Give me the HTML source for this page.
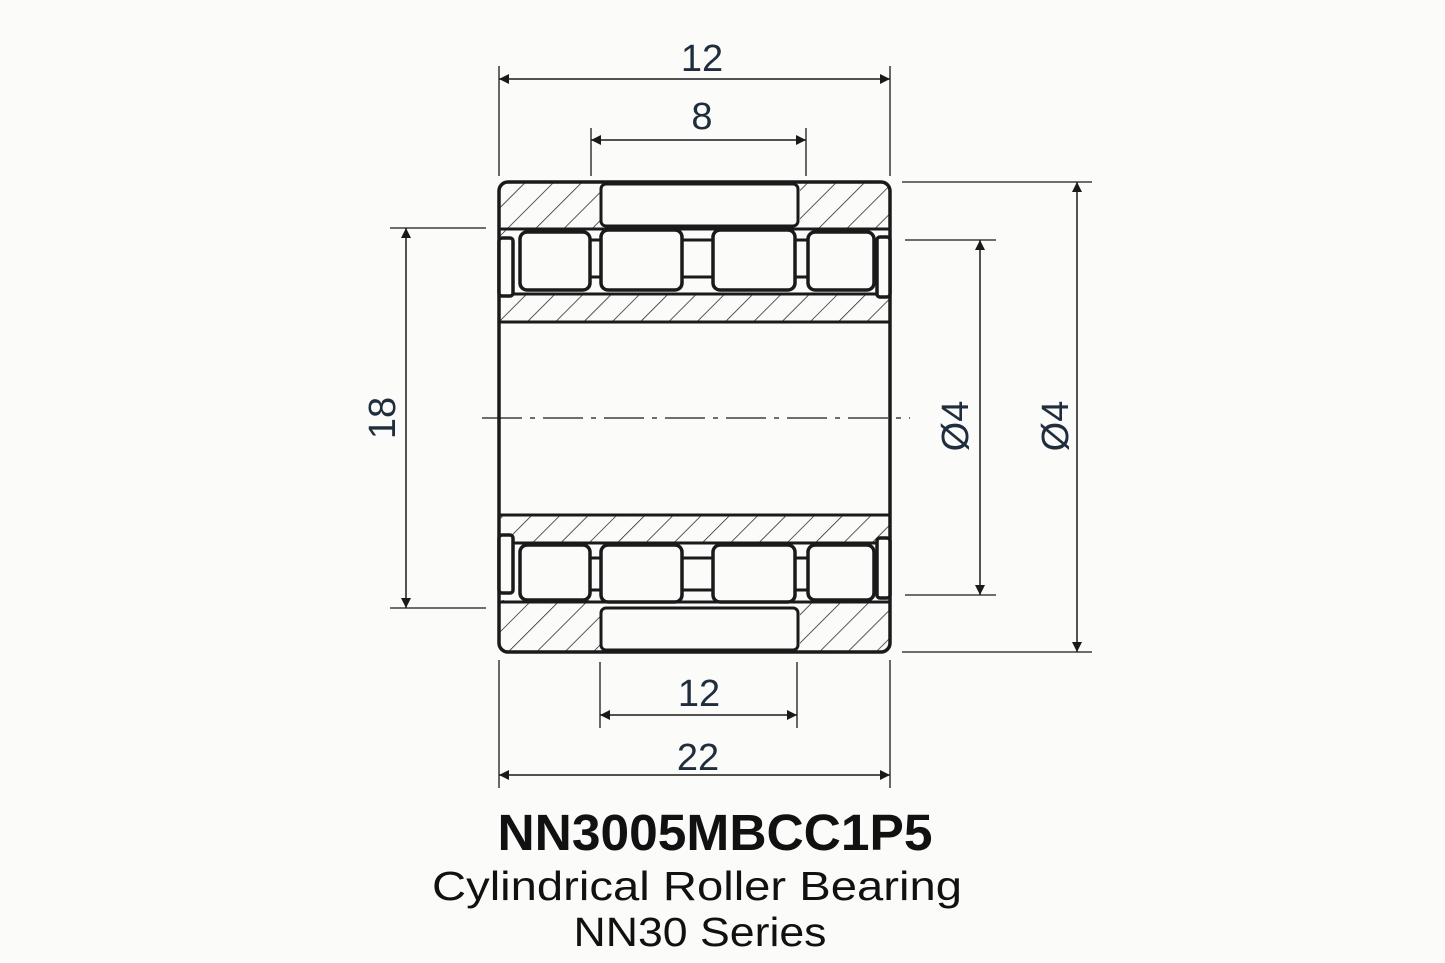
<!DOCTYPE html>
<html><head><meta charset="utf-8"><style>html,body{margin:0;padding:0;background:#fbfbf9}svg{display:block}</style></head>
<body>
<svg width="1445" height="963" viewBox="0 0 1445 963" xmlns="http://www.w3.org/2000/svg">
<defs>
<pattern id="h" patternUnits="userSpaceOnUse" width="20" height="20" patternTransform="rotate(45)">
<line x1="0" y1="0" x2="0" y2="20" stroke="#222" stroke-width="1.5"/>
</pattern>
<marker id="a" viewBox="0 0 10 10" refX="10" refY="5" markerWidth="16" markerHeight="10" markerUnits="userSpaceOnUse" orient="auto-start-reverse"><path d="M0,0 L10,5 L0,10 z" fill="#1a1a1a"/></marker>
</defs>
<rect width="1445" height="963" fill="#fbfbf9"/>
<g stroke="#1a1a1a" fill="none">
<!-- hatched areas -->
<path d="M508,183 H600 V228 H512 L499,240 V192 Q499,183 508,183 Z" fill="url(#h)" stroke="none"/>
<path d="M800,183 H882 Q890,183 890,192 V236 L878,228 H800 Z" fill="url(#h)" stroke="none"/>
<rect x="499" y="294" width="391" height="28" fill="url(#h)" stroke="none"/>
<rect x="499" y="515" width="391" height="28" fill="url(#h)" stroke="none"/>
<path d="M499,600 H600 V652 H508 Q499,652 499,643 Z" fill="url(#h)" stroke="none"/>
<path d="M800,600 H890 V643 Q890,652 882,652 H800 Z" fill="url(#h)" stroke="none"/>
<!-- outer outline -->
<rect x="499" y="182" width="391" height="470" rx="9" stroke-width="3.5"/>
<line x1="499" y1="322" x2="890" y2="322" stroke-width="3"/>
<line x1="499" y1="515" x2="890" y2="515" stroke-width="3"/>
<line x1="499" y1="294" x2="890" y2="294" stroke-width="3"/>
<line x1="499" y1="543" x2="890" y2="543" stroke-width="3"/>
<line x1="499" y1="229" x2="890" y2="229" stroke-width="3"/>
<line x1="499" y1="602" x2="890" y2="602" stroke-width="3"/>
<!-- top middle blocks -->
<rect x="601" y="184" width="197" height="42" rx="5" stroke-width="3" fill="#fbfbf9"/>
<rect x="601" y="608" width="197" height="42" rx="5" stroke-width="3" fill="#fbfbf9"/>
<!-- rollers top -->
<g stroke-width="3.5" fill="#fbfbf9">
<rect x="520" y="232" width="70" height="58" rx="7"/>
<rect x="601" y="230" width="81" height="60" rx="7"/>
<rect x="713" y="230" width="82" height="60" rx="7"/>
<rect x="808" y="232" width="66" height="58" rx="7"/>
<rect x="499" y="238" width="14" height="58" rx="3"/>
<rect x="877" y="237" width="13" height="60" rx="3"/>
<rect x="520" y="545" width="70" height="55" rx="7"/>
<rect x="601" y="545" width="81" height="57" rx="7"/>
<rect x="713" y="545" width="82" height="57" rx="7"/>
<rect x="808" y="545" width="66" height="55" rx="7"/>
<rect x="499" y="535" width="14" height="58" rx="3"/>
<rect x="877" y="538" width="13" height="60" rx="3"/>
</g>
<g stroke-width="3">
<line x1="682" y1="240" x2="713" y2="240"/><line x1="682" y1="277" x2="713" y2="277"/>
<line x1="682" y1="558" x2="713" y2="558"/><line x1="682" y1="590" x2="713" y2="590"/>
<line x1="590" y1="240" x2="601" y2="240"/><line x1="590" y1="277" x2="601" y2="277"/>
<line x1="795" y1="240" x2="808" y2="240"/><line x1="795" y1="277" x2="808" y2="277"/>
<line x1="590" y1="558" x2="601" y2="558"/><line x1="590" y1="590" x2="601" y2="590"/>
<line x1="795" y1="558" x2="808" y2="558"/><line x1="795" y1="590" x2="808" y2="590"/>
</g>
<!-- centerline -->
<line x1="482" y1="418" x2="910" y2="418" stroke-width="1.3" stroke-dasharray="40,8,5,8"/>
<!-- extension lines -->
<g stroke-width="1.3">
<line x1="499" y1="66" x2="499" y2="176"/><line x1="890" y1="66" x2="890" y2="176"/>
<line x1="591" y1="128" x2="591" y2="176"/><line x1="806" y1="128" x2="806" y2="176"/>
<line x1="499" y1="660" x2="499" y2="788"/><line x1="890" y1="660" x2="890" y2="788"/>
<line x1="600" y1="662" x2="600" y2="728"/><line x1="797" y1="662" x2="797" y2="728"/>
<line x1="390" y1="228" x2="486" y2="228"/><line x1="390" y1="608" x2="486" y2="608"/>
<line x1="905" y1="240" x2="996" y2="240"/><line x1="905" y1="595" x2="996" y2="595"/>
<line x1="902" y1="182" x2="1092" y2="182"/><line x1="902" y1="652" x2="1092" y2="652"/>
</g>
<!-- dimension lines -->
<g stroke-width="1.5" marker-start="url(#a)" marker-end="url(#a)">
<line x1="499" y1="79" x2="890" y2="79"/>
<line x1="591" y1="140" x2="806" y2="140"/>
<line x1="600" y1="715" x2="797" y2="715"/>
<line x1="499" y1="775" x2="890" y2="775"/>
<line x1="406" y1="228" x2="406" y2="608"/>
<line x1="980" y1="240" x2="980" y2="595"/>
<line x1="1077" y1="182" x2="1077" y2="652"/>
</g>
</g>
<g font-family="Liberation Sans, sans-serif" fill="#1f2d3d" font-size="38" text-anchor="middle">
<text x="702" y="71">12</text>
<text x="702" y="129">8</text>
<text x="699" y="706">12</text>
<text x="698" y="770">22</text>
<text transform="translate(395,418) rotate(-90)">18</text>
<text transform="translate(968,426) rotate(-90)">Ø4</text>
<text transform="translate(1068,426) rotate(-90)">Ø4</text>
</g>
<g font-family="Liberation Sans, sans-serif" fill="#111" text-anchor="middle">
<text x="715" y="850" font-size="51" font-weight="bold" textLength="435" lengthAdjust="spacingAndGlyphs">NN3005MBCC1P5</text>
<text x="697" y="900" font-size="41" textLength="530" lengthAdjust="spacingAndGlyphs">Cylindrical Roller Bearing</text>
<text x="700" y="946" font-size="41" textLength="253" lengthAdjust="spacingAndGlyphs">NN30 Series</text>
</g>
</svg>
</body></html>
